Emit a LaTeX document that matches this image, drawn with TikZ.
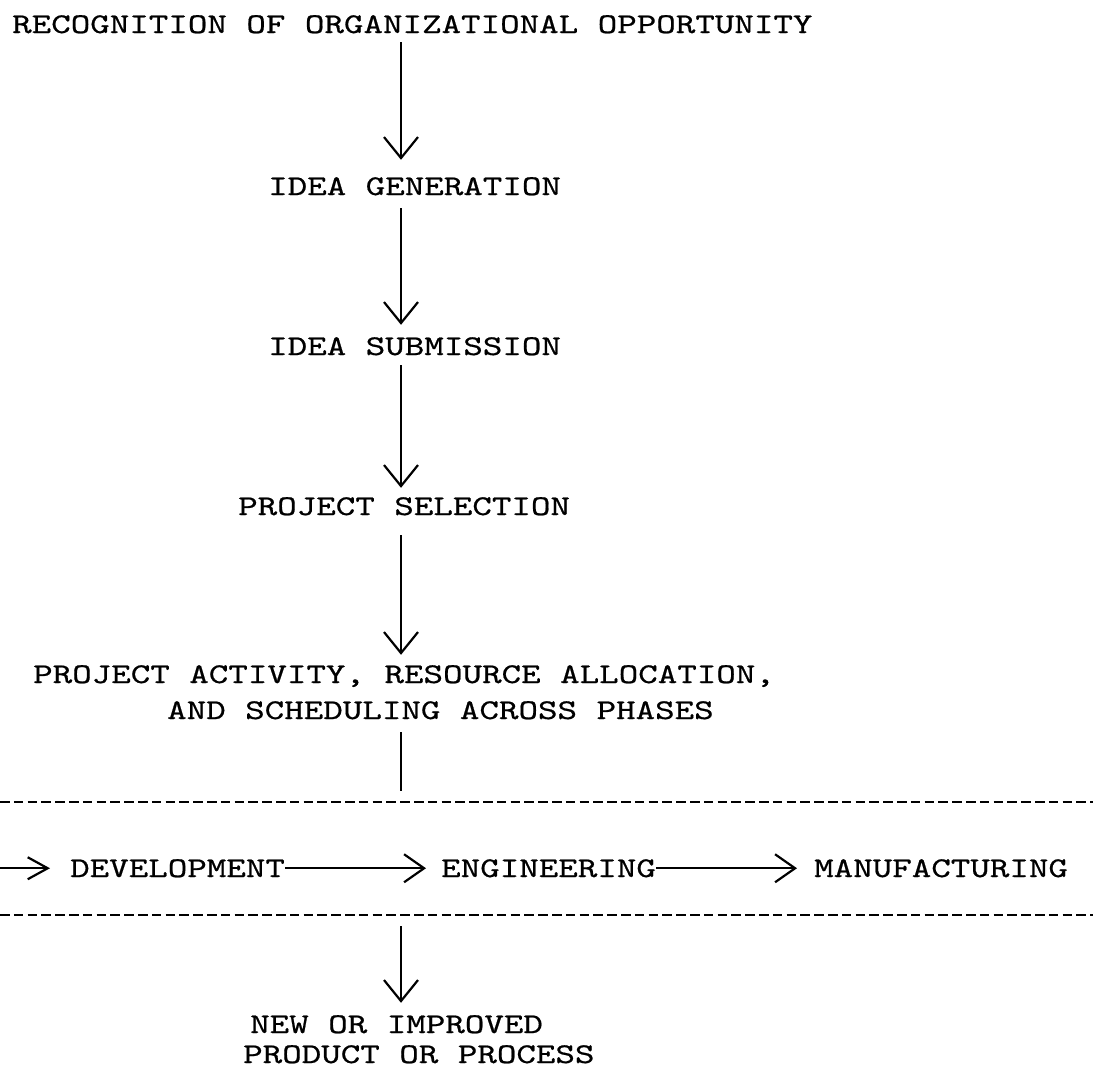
\documentclass[tikz,border=0pt]{standalone}
\usepackage{fontspec}
\usetikzlibrary{arrows.meta}
% typewriter face, widened to a Courier-like pitch and given a slightly heavier stroke
\newfontfamily\tw[FakeStretch=1.3,FakeBold=0.6]{lmmono10-regular.otf}
\begin{document}
\begin{tikzpicture}[x=1pt,y=-1pt,
  lbl/.style={anchor=base west,inner sep=0pt,text height=17.5pt,text depth=0pt,
              font=\tw\fontsize{28.6}{36}\selectfont},
  flow/.style={line width=2.2pt,-{Straight Barb[length=21pt,width=34pt]}},
  sideflow/.style={line width=2.2pt,-{Straight Barb[length=20pt,width=28pt]}},
  plain/.style={line width=2.2pt},
  band/.style={line width=2.8pt,dash pattern=on 9.5pt off 4.3pt}]
\useasboundingbox (0,0) rectangle (1093,1074);
\fill[white] (0,0) rectangle (1093,1074);

% vertical axis of the flow
\coordinate (axis) at (401,0);

% stages
\node[lbl] (t1)  at (12,33)   {RECOGNITION OF ORGANIZATIONAL OPPORTUNITY};
\node[lbl] (t2)  at (268,195) {IDEA GENERATION};
\node[lbl] (t3)  at (268,355) {IDEA SUBMISSION};
\node[lbl] (t4)  at (238,515) {PROJECT SELECTION};
\node[lbl] (t5a) at (33,683)  {PROJECT ACTIVITY, RESOURCE ALLOCATION,};
\node[lbl] (t5b) at (167,719) {AND SCHEDULING ACROSS PHASES};
\node[lbl] (dev) at (70,877)  {DEVELOPMENT};
\node[lbl] (eng) at (441,877) {ENGINEERING};
\node[lbl] (man) at (814,877) {MANUFACTURING};
\node[lbl] (t6a) at (250,1033) {NEW OR IMPROVED};
\node[lbl] (t6b) at (243,1063) {PRODUCT OR PROCESS};

% free ends
\coordinate (phaseTop) at (401,791);
\coordinate (rowIn)    at (0,868.25);
\coordinate (outStart) at (401,926);

% main vertical flow
\draw[flow,shorten <=9pt,shorten >=17.5pt]  (t1.south -| axis) -- (t2.north -| axis);
\draw[flow,shorten <=13pt,shorten >=12.5pt] (t2.south -| axis) -- (t3.north -| axis);
\draw[flow,shorten <=10pt,shorten >=9.5pt]  (t3.south -| axis) -- (t4.north -| axis);
\draw[flow,shorten <=20pt,shorten >=10.5pt] (t4.south -| axis) -- (t5a.north -| axis);
\draw[plain,shorten <=13pt] (t5b.south -| axis) -- (phaseTop);

% phase band
\draw[band] (0,802) -- (1093,802);
\draw[band] (0,915) -- (1093,915);
\draw[line width=2.2pt,-{Straight Barb[length=20pt,width=22pt]},shorten >=20pt] (rowIn) -- (dev.west);
\draw[sideflow,shorten >=15pt] (dev.east) -- (eng.west);
\draw[sideflow,shorten >=17pt] (eng.east) -- (man.west);

% outcome
\draw[flow,shorten >=12.5pt] (outStart) -- (t6a.north -| axis);
\end{tikzpicture}
\end{document}
